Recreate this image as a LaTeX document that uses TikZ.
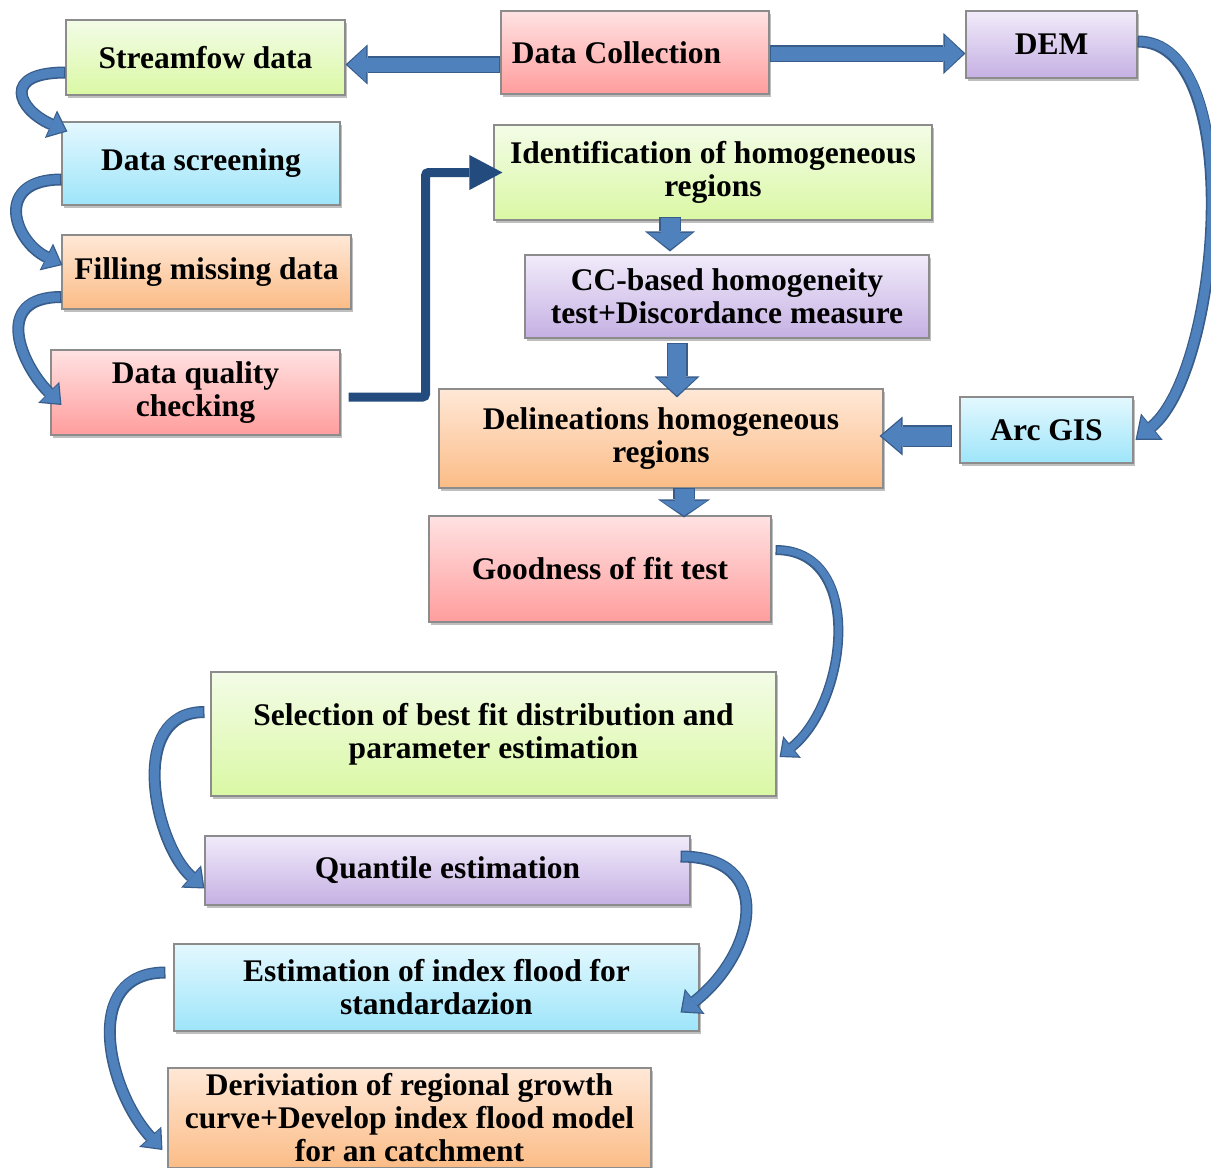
\documentclass[tikz,border=0pt]{standalone}
\usepackage{fontspec}
\setmainfont{Liberation Serif}
\usetikzlibrary{arrows.meta,calc,shadows}
\definecolor{arrdark}{HTML}{385D8A}
\definecolor{arrfill}{HTML}{4F81BD}
\definecolor{elbow}{HTML}{234B7D}
\definecolor{pinkT}{HTML}{FFE2E2}\definecolor{pinkB}{HTML}{FF9D9D}
\definecolor{greenT}{HTML}{F3FCE7}\definecolor{greenB}{HTML}{DAF8A4}
\definecolor{blueT}{HTML}{E3F8FE}\definecolor{blueB}{HTML}{9EE5FA}
\definecolor{oranT}{HTML}{FFE8D7}\definecolor{oranB}{HTML}{FBBC86}
\definecolor{purpT}{HTML}{F1EBFA}\definecolor{purpB}{HTML}{C5B0E3}
\tikzset{
  box/.style={draw=black!45, line width=1.1pt, inner sep=0pt, align=center,
    font=\fontsize{31.5}{33}\selectfont\bfseries,
    drop shadow={shadow xshift=2pt, shadow yshift=-3pt, fill=black, opacity=0.25}},
  pinkbox/.style={box, top color=pinkT, bottom color=pinkB},
  greenbox/.style={box, top color=greenT, bottom color=greenB},
  bluebox/.style={box, top color=blueT, bottom color=blueB},
  oranbox/.style={box, top color=oranT, bottom color=oranB},
  purpbox/.style={box, top color=purpT, bottom color=purpB},
  bo/.style args={#1/#2/#3}{draw=arrdark, line width=#1,
    -{Triangle[length=#2, width=#3, line width=0pt]}},
  bi/.style args={#1/#2/#3}{draw=arrfill, line width=#1, shorten >=2pt, shorten <=1.5pt,
    -{Triangle[length=#2, width=#3, line width=0pt]}},
  elbowarrow/.style={draw=elbow, line width=9pt, rounded corners=3pt,
    -{Triangle[length=33pt, width=35pt, line width=0pt]}}
}
\begin{document}
\begin{tikzpicture}[x=1pt,y=-1pt]
\fill[white] (0,0) rectangle (1211,1168);
\useasboundingbox (0,0) rectangle (1211,1168);

% boxes
\node[greenbox, minimum width=279pt, minimum height=75pt] (sf) at (205.5,57.5) {Streamfow data};
\node[pinkbox, minimum width=268pt, minimum height=83pt] (dc) at (635,52.5) {Data Collection\hspace*{37pt}};
\node[purpbox, minimum width=171pt, minimum height=67pt] (dem) at (1051.5,44.5) {DEM};
\node[bluebox, minimum width=278pt, minimum height=83pt] (ds) at (201,163.5) {Data screening};
\node[greenbox, minimum width=438pt, minimum height=95pt] (id) at (713,172.5) {Identification of homogeneous\\regions};
\node[oranbox, minimum width=289pt, minimum height=74pt] (fm) at (206.5,272) {Filling missing data};
\node[purpbox, minimum width=404pt, minimum height=83pt] (cc) at (727,296.5) {CC-based homogeneity\\test+Discordance measure};
\node[pinkbox, minimum width=289pt, minimum height=85pt] (dq) at (195.5,392.5) {Data quality\\checking};
\node[oranbox, minimum width=444pt, minimum height=99pt] (del) at (661,438.5) {Delineations homogeneous\\regions};
\node[bluebox, minimum width=173pt, minimum height=66pt] (arc) at (1046.5,430) {Arc GIS};
\node[pinkbox, minimum width=342pt, minimum height=106pt] (gf) at (600,569) {Goodness of fit test};
\node[greenbox, minimum width=565pt, minimum height=124pt] (sel) at (493.5,734) {Selection of best fit distribution and\\parameter estimation};
\node[purpbox, minimum width=485pt, minimum height=69pt] (qe) at (447.5,870.5) {Quantile estimation};
\node[bluebox, minimum width=525pt, minimum height=87pt] (est) at (436.5,987.5) {Estimation of index flood for\\standardazion};
\node[oranbox, minimum width=483pt, minimum height=100pt] (der) at (409.5,1118) {Deriviation of regional growth\\curve+Develop index flood model\\for an catchment};

% straight block arrows
\draw[bo=17pt/22pt/40pt] ($(dc.west)+(0,12)$) -- ($(sf.east)+(0,7)$);
\draw[bi=14pt/18.5pt/35pt] ($(dc.west)+(0,12)$) -- ($(sf.east)+(0,7)$);
\draw[bo=17pt/22pt/41pt] ($(dc.east)+(0,1)$) -- ($(dem.west)+(0,9)$);
\draw[bi=14pt/18.5pt/36pt] ($(dc.east)+(0,1)$) -- ($(dem.west)+(0,9)$);
\draw[bo=22pt/20pt/50pt] ($(id.south)+(-43,-4)$) -- ($(cc.north)+(-57,-3)$);
\draw[bi=19pt/16.5pt/44pt] ($(id.south)+(-43,-4)$) -- ($(cc.north)+(-57,-3)$);
\draw[bo=21pt/21pt/45pt] ($(cc.south)+(-50,4)$) -- ($(del.north)+(16,9)$);
\draw[bi=18pt/17.5pt/39pt] ($(cc.south)+(-50,4)$) -- ($(del.north)+(16,9)$);
\draw[bo=22pt/18pt/52pt] ($(del.south)+(23,-1)$) -- ($(gf.north)+(84,2)$);
\draw[bi=19pt/14.5pt/46pt] ($(del.south)+(23,-1)$) -- ($(gf.north)+(84,2)$);
\draw[bo=22pt/23pt/39pt] ($(arc.west)+(-7,6)$) -- ($(del.east)+(-4,-2.5)$);
\draw[bi=19pt/19.5pt/33pt] ($(arc.west)+(-7,6)$) -- ($(del.east)+(-4,-2.5)$);

% elbow arrow
\draw[elbowarrow] ($(dq.east)+(8,4.5)$) -- ++(77,0) |- ($(id.west)+(9,0)$);

% curved arrows
\draw[bo=12pt/18pt/30pt] ($(sf.west)+(0,15)$) .. controls +(-64,0) and +(-50,-22) .. ($(ds.north west)+(6,10)$);
\draw[bi=9pt/15pt/25pt] ($(sf.west)+(0,15)$) .. controls +(-64,0) and +(-50,-22) .. ($(ds.north west)+(6,10)$);
\draw[bo=12pt/18pt/30pt] ($(ds.west)+(0,16)$) .. controls +(-67,0) and +(-50,-25) .. ($(fm.west)+(1,-7)$);
\draw[bi=9pt/15pt/25pt] ($(ds.west)+(0,16)$) .. controls +(-67,0) and +(-50,-25) .. ($(fm.west)+(1,-7)$);
\draw[bo=12pt/18pt/30pt] ($(fm.west)+(0,25)$) .. controls +(-70,0) and +(-40,-40) .. ($(dq.west)+(11,12.5)$);
\draw[bi=9pt/15pt/25pt] ($(fm.west)+(0,25)$) .. controls +(-70,0) and +(-40,-40) .. ($(dq.west)+(11,12.5)$);
\draw[bo=12pt/21pt/34pt] ($(dem.east)+(0,-3)$) .. controls +(110,0) and +(85,-70) .. ($(arc.east)+(2,10)$);
\draw[bi=9pt/18pt/29pt] ($(dem.east)+(0,-3)$) .. controls +(110,0) and +(85,-70) .. ($(arc.east)+(2,10)$);
\draw[bo=10pt/16pt/28pt] ($(gf.east)+(4,-19)$) .. controls +(90,0) and +(68,-55) .. ($(sel.east)+(3,23)$);
\draw[bi=7pt/13pt/23pt] ($(gf.east)+(4,-19)$) .. controls +(90,0) and +(68,-55) .. ($(sel.east)+(3,23)$);
\draw[bo=12pt/18pt/30pt] ($(sel.west)+(-6,-22)$) .. controls +(-78,0) and +(-50,-45) .. ($(qe.west)+(0,18)$);
\draw[bi=9pt/15pt/25pt] ($(sel.west)+(-6,-22)$) .. controls +(-78,0) and +(-50,-45) .. ($(qe.west)+(0,18)$);
\draw[bo=12pt/18pt/32pt] ($(qe.east)+(-10,-14)$) .. controls +(95,0) and +(76,-60) .. ($(est.east)+(-19,25)$);
\draw[bi=9pt/15pt/27pt] ($(qe.east)+(-10,-14)$) .. controls +(95,0) and +(76,-60) .. ($(est.east)+(-19,25)$);
\draw[bo=12pt/18pt/30pt] ($(est.west)+(-8,-15)$) .. controls +(-85,0) and +(-55,-60) .. ($(der.west)+(-5,32)$);
\draw[bi=9pt/15pt/25pt] ($(est.west)+(-8,-15)$) .. controls +(-85,0) and +(-55,-60) .. ($(der.west)+(-5,32)$);
\end{tikzpicture}
\end{document}
